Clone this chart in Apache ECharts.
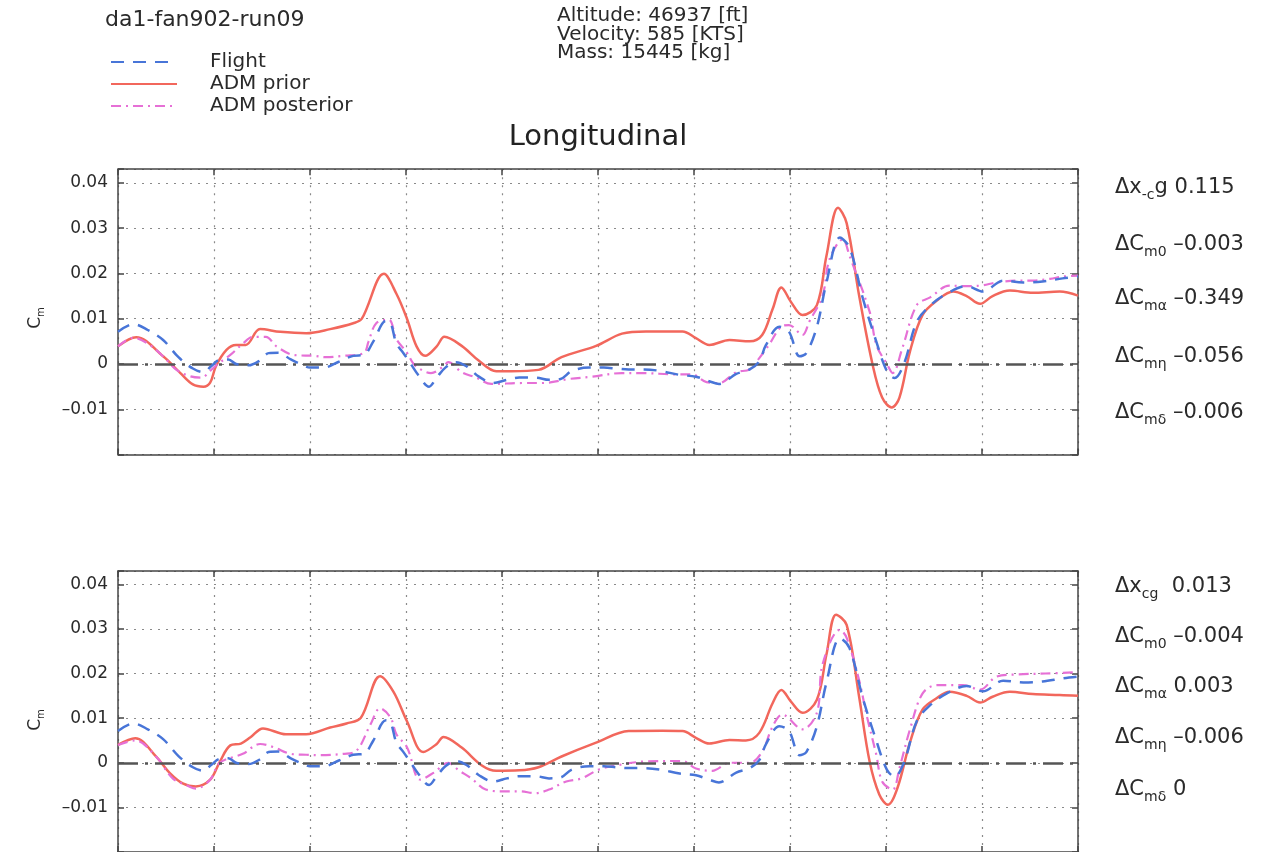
<!DOCTYPE html>
<html><head><meta charset="utf-8">
<script src="https://cdn.jsdelivr.net/npm/echarts@6/dist/echarts.min.js"></script>
<style>html,body{margin:0;padding:0;background:#fff}#c{width:1261px;height:852px}</style>
</head><body><div id="c"></div><script>
// ---- data ----
const seriesNames = ['Flight', 'ADM prior', 'ADM posterior'];
const yTickValues = [0.04, 0.03, 0.02, 0.01, 0, -0.01];
const yTickLabels = ['0.04', '0.03', '0.02', '0.01', '0', '–0.01'];

const flightT = [0,1.6,3.1,4.7,6.3,7.8,8.9,9.7,10.6,11.5,12.3,13.6,14.8,15.7,16.7,18.0,19.3,20.0,21.4,23.0,24.5,25.6,26.6,27.9,28.4,29.0,29.7,30.5,31.3,32.4,33.2,34.1,35.2,36.3,37.6,39.1,40.5,41.8,43.5,44.9,46.1,47.3,49.1,50.6,51.9,53.2,54.8,56.4,58.5,60.2,61.6,62.6,64.4,65.8,66.8,67.5,68.9,69.9,71.0,71.7,72.8,73.8,75.2,76.2,77.6,79.0,80.1,80.9,81.9,83.2,84.6,86.3,88.4,90.1,92.2,94.3,96.3,98.4,100];
const flightCm = [0.0071,0.0088,0.0075,0.0053,0.0015,-0.001,-0.0018,-0.0005,0.0009,0.001,0.0,-0.0003,0.0008,0.0024,0.0025,0.001,-0.0003,-0.0008,-0.0008,0.0005,0.0018,0.002,0.005,0.0095,0.009,0.0045,0.0025,0.0,-0.0025,-0.005,-0.003,-0.0008,0.0004,-0.0005,-0.0028,-0.0042,-0.0035,-0.003,-0.003,-0.0035,-0.0033,-0.0015,-0.0008,-0.0008,-0.001,-0.0012,-0.0012,-0.0015,-0.0024,-0.0028,-0.0038,-0.0044,-0.0022,-0.0012,0.0006,0.0042,0.0082,0.0071,0.0017,0.0024,0.0082,0.018,0.0279,0.0257,0.0144,0.0049,-0.0016,-0.0031,0.0002,0.0093,0.0129,0.0155,0.0172,0.016,0.0184,0.018,0.0182,0.0189,0.0193];

const priorTopT = [0,1.9,4.7,6.5,7.8,8.9,9.6,10.2,11.3,12.3,13.3,14.8,16.9,19.6,22.1,24.5,25.4,27.7,29.0,30.1,31.1,32.0,33.2,34.0,35.8,37.6,39.4,41.0,43.8,46.2,49.8,52.5,55.0,58.8,60.2,61.6,63.7,65.8,67.1,68.2,69.1,70.1,71.3,72.8,73.8,75.0,75.9,77.2,78.6,79.6,80.6,81.4,82.5,83.8,85.3,87.0,88.4,89.8,91.1,92.9,95.3,98.1,100];
const priorTopCm = [0.0039,0.0059,0.0017,-0.002,-0.0045,-0.005,-0.0041,-0.0005,0.0031,0.0042,0.0042,0.0077,0.0071,0.0068,0.0077,0.009,0.01,0.0199,0.0155,0.01,0.0039,0.0018,0.0039,0.006,0.004,0.0007,-0.0016,-0.0016,-0.0013,0.0015,0.004,0.0067,0.0072,0.0072,0.0057,0.0042,0.0053,0.005,0.0064,0.0122,0.0169,0.0137,0.0108,0.013,0.0239,0.0345,0.0311,0.0151,-0.0001,-0.0074,-0.0096,-0.0074,0.0028,0.0108,0.014,0.016,0.015,0.0133,0.015,0.0162,0.0157,0.016,0.0151];

const postTopT = [0,1.6,3.1,4.7,6.1,7.5,8.7,9.6,10.4,11.7,13.0,14.1,15.4,16.5,18.3,20.4,21.7,23.5,25.6,26.1,26.9,28.2,29.0,30.1,30.8,31.8,32.6,33.9,34.4,35.8,37.3,38.9,42.1,44.2,47.0,49.4,52.5,54.6,58.1,59.8,61.3,62.6,64.4,65.8,66.8,67.8,69.2,69.9,71.3,72.0,73.4,74.1,75.5,76.2,78.3,79.0,80.1,80.7,81.7,83.2,84.6,86.6,88.2,89.8,91.5,93.6,95.3,97.1,98.4,100];
const postTopCm = [0.0039,0.0058,0.0045,0.0017,-0.0013,-0.0027,-0.003,-0.0015,0.0,0.002,0.0045,0.006,0.006,0.0039,0.002,0.0018,0.0015,0.0018,0.0024,0.005,0.009,0.0098,0.0055,0.0025,0.0,-0.0015,-0.002,-0.0005,0.0004,-0.0018,-0.003,-0.0044,-0.0042,-0.0042,-0.0033,-0.0028,-0.002,-0.002,-0.0023,-0.0023,-0.004,-0.0042,-0.0018,-0.0012,0.0013,0.0042,0.0084,0.0086,0.0064,0.0093,0.0151,0.023,0.0275,0.0239,0.0115,0.0042,0.0,-0.002,0.0035,0.013,0.0147,0.0173,0.0172,0.0173,0.018,0.0184,0.0184,0.0188,0.0193,0.0195];

const priorBotT = [0,1.8,4.0,5.4,6.8,8.1,9.6,10.6,11.7,12.8,13.8,15.1,17.5,19.6,22.1,23.8,25.3,27.3,28.7,30.1,31.8,33.2,33.9,35.8,37.9,39.4,41.8,43.8,46.2,49.8,53.2,56.7,58.8,60.2,61.6,63.7,65.4,66.8,68.2,69.1,70.1,71.3,72.8,73.8,74.8,75.9,77.2,78.3,79.3,80.2,81.2,82.5,83.8,85.3,86.6,88.4,89.8,91.1,92.9,95.3,98.1,100];
const priorBotCm = [0.004,0.0055,0.0013,-0.0023,-0.0047,-0.0053,-0.0038,0.0002,0.0039,0.0043,0.0057,0.0077,0.0064,0.0064,0.0079,0.0088,0.0101,0.0194,0.0159,0.0093,0.0024,0.0042,0.0058,0.0034,-0.0006,-0.0018,-0.0017,-0.001,0.0014,0.0045,0.0071,0.0072,0.0071,0.0056,0.0043,0.0051,0.005,0.0067,0.0134,0.0163,0.0137,0.0112,0.0141,0.0243,0.0332,0.0309,0.0148,0.0002,-0.0071,-0.0094,-0.0056,0.0046,0.0119,0.0145,0.0159,0.015,0.0135,0.0148,0.0159,0.0154,0.0152,0.015];

const postBotT = [0,1.8,4.0,5.7,7.3,8.1,9.6,10.6,13.0,14.8,16.2,18.0,19.6,21.1,23.5,24.8,26.3,27.3,28.4,29.0,30.1,31.5,32.9,34.4,35.5,36.8,38.3,40.0,41.8,43.5,44.9,46.7,48.3,50.1,51.9,55.0,58.8,60.2,61.9,63.7,65.8,67.1,68.2,69.2,71.3,72.8,73.4,75.2,75.9,77.2,78.0,79.0,79.6,80.7,81.4,82.5,83.8,85.3,88.0,89.8,91.5,93.6,96.6,100];
const postBotCm = [0.004,0.005,0.0013,-0.0035,-0.0052,-0.0058,-0.0038,0.0,0.002,0.0042,0.0035,0.002,0.0018,0.0017,0.002,0.0026,0.0086,0.0122,0.0101,0.0064,0.0035,-0.0038,-0.0022,0.0,-0.0017,-0.0035,-0.006,-0.0064,-0.0064,-0.0068,-0.006,-0.0042,-0.0035,-0.0015,-0.0006,0.0003,0.0004,-0.0013,-0.0018,0.0,0.0,0.0025,0.0082,0.0108,0.0075,0.0112,0.0221,0.0298,0.028,0.0185,0.0105,0.0017,-0.0042,-0.006,-0.0012,0.0075,0.0155,0.0174,0.0174,0.0164,0.0193,0.0198,0.02,0.0203];

const headerName = 'da1-fan902-run09';
const headerInfo = ['Altitude: 46937 [ft]', 'Velocity: 585 [KTS]', 'Mass: 15445 [kg]'];
const titleText = 'Longitudinal';
// right-hand parameter annotations: [main, subscript, value]
const paramsTop = [['Δx', '-c', 'g 0.115'], ['ΔC', 'm0', ' –0.003'], ['ΔC', 'mα', ' –0.349'], ['ΔC', 'mη', ' –0.056'], ['ΔC', 'mδ', ' –0.006']];
const paramsBot = [['Δx', 'cg', '  0.013'], ['ΔC', 'm0', ' –0.004'], ['ΔC', 'mα', ' 0.003'], ['ΔC', 'mη', ' –0.006'], ['ΔC', 'mδ', ' 0']];

// ---- chart ----
const F = 'DejaVu Sans';
const TXT = '#2a2a2a';
const zip = (t, v) => t.map((x, i) => [x, v[i]]);
const grids = [
  {left: 118, top: 169.2, width: 960, height: 285.4},
  {left: 118, top: 570.9, width: 960, height: 287.7}
];
const axisLineS = {show: true, onZero: false, lineStyle: {color: '#444', width: 1.5}};
const tickS = {show: true, inside: true, length: 6, lineStyle: {color: '#444', width: 1.5}};
const splitS = {show: true, lineStyle: {color: '#8a8a8a', type: [2, 6], width: 1.2}};
const xAxes = [], yAxes = [];
grids.forEach((g, gi) => {
  xAxes.push({type: 'value', gridIndex: gi, min: 0, max: 100, interval: 10, position: 'bottom',
    axisLine: axisLineS, axisTick: tickS, axisLabel: {show: false}, splitLine: splitS});
  xAxes.push({type: 'value', gridIndex: gi, min: 0, max: 100, interval: 10, position: 'top',
    axisLine: axisLineS, axisTick: tickS, axisLabel: {show: false}, splitLine: {show: false}});
  yAxes.push({type: 'value', gridIndex: gi, min: -0.02, max: 0.043, interval: 0.01, position: 'left',
    axisLine: axisLineS, axisTick: tickS, splitLine: splitS,
    axisLabel: {show: true, margin: 10, fontFamily: F, fontSize: 17, color: TXT,
      formatter: v => { const i = yTickValues.findIndex(t => Math.abs(t - v) < 1e-9); return i >= 0 ? yTickLabels[i] : ''; }}});
  yAxes.push({type: 'value', gridIndex: gi, min: -0.02, max: 0.043, interval: 0.01, position: 'right',
    axisLine: axisLineS, axisTick: tickS, axisLabel: {show: false}, splitLine: {show: false}});
});

const styles = {
  'Flight': {color: '#4875d8', width: 2.5, type: [13, 9]},
  'ADM prior': {color: '#f2675c', width: 2.5, type: 'solid'},
  'ADM posterior': {color: '#e670d6', width: 2.2, type: [10, 5, 2, 5]}
};
const panelData = [
  {'Flight': zip(flightT, flightCm), 'ADM prior': zip(priorTopT, priorTopCm), 'ADM posterior': zip(postTopT, postTopCm)},
  {'Flight': zip(flightT, flightCm), 'ADM prior': zip(priorBotT, priorBotCm), 'ADM posterior': zip(postBotT, postBotCm)}
];
const zOrder = {'ADM prior': 3, 'ADM posterior': 4, 'Flight': 5};
const series = [];
panelData.forEach((pd, gi) => {
  ['ADM prior', 'ADM posterior', 'Flight'].forEach(name => {
    const s = {
      name, type: 'line', xAxisIndex: gi * 2, yAxisIndex: gi * 2, data: pd[name],
      smooth: 0.35, symbol: 'none', showSymbol: false, z: zOrder[name],
      lineStyle: styles[name], itemStyle: {color: styles[name].color}
    };
    if (name === 'ADM prior') {
      s.markLine = {silent: true, symbol: ['none', 'none'], label: {show: false},
        lineStyle: {color: '#555', width: 2.5, type: [20, 7, 3, 7]}, data: [{yAxis: 0}]};
    }
    series.push(s);
  });
});

const rich = {
  n: {fontFamily: F, fontSize: 21, fill: TXT},
  s: {fontFamily: F, fontSize: 14, fill: TXT, padding: [14, 0, 0, 0]}
};
const graphics = [
  {type: 'text', x: 105, y: 20, style: {text: headerName, fontFamily: F, fontSize: 22, fill: TXT, verticalAlign: 'middle'}},
  {type: 'text', x: 557, y: 7, style: {text: headerInfo.join('\n'), fontFamily: F, fontSize: 20, lineHeight: 18.5, fill: TXT, verticalAlign: 'top'}},
  {type: 'text', x: 598, y: 137, style: {text: titleText, fontFamily: F, fontSize: 29, fill: '#222', align: 'center', verticalAlign: 'middle'}}
];
const rowsTop = [188, 245, 299, 357, 413];
const rowsBot = [587, 637, 687, 738, 790];
[[paramsTop, rowsTop], [paramsBot, rowsBot]].forEach(([params, rows]) => {
  params.forEach((p, i) => {
    graphics.push({type: 'text', x: 1115, y: rows[i], style: {
      text: '{n|' + p[0] + '}{s|' + p[1] + '}{n|' + p[2] + '}', rich, verticalAlign: 'middle'}});
  });
});
[318, 720].forEach(yc => {
  graphics.push({type: 'text', x: 36, y: yc, rotation: Math.PI / 2, style: {
    text: '{n|C}{s|m}', align: 'center', verticalAlign: 'middle',
    rich: {n: {fontFamily: F, fontSize: 17, fill: TXT}, s: {fontFamily: F, fontSize: 10, fill: TXT, padding: [10, 0, 0, 0]}}}});
});

const chart = echarts.init(document.getElementById('c'), null, {renderer: 'canvas'});
chart.setOption({
  animation: false,
  backgroundColor: '#fff',
  grid: grids,
  xAxis: xAxes,
  yAxis: yAxes,
  legend: {data: seriesNames, orient: 'vertical', left: 105, top: 46, itemWidth: 66, itemHeight: 12, itemGap: 0,
    selectedMode: false, itemStyle: {opacity: 0},
    textStyle: {fontFamily: F, fontSize: 20, color: TXT, lineHeight: 16, padding: [6, 0, 0, 28]}},
  graphic: graphics,
  series
});
</script></body></html>
